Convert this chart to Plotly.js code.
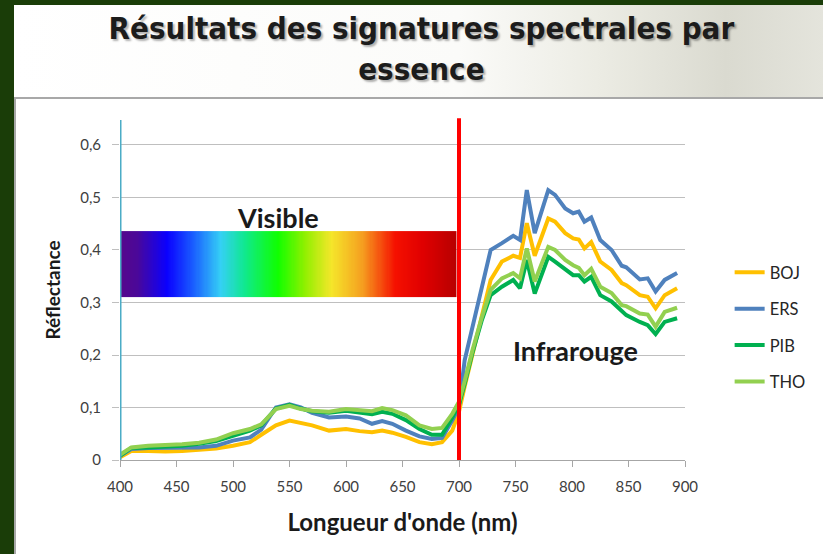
<!DOCTYPE html>
<html>
<head>
<meta charset="utf-8">
<script src="https://cdn.plot.ly/plotly-3.0.1.min.js"></script>
<style>
  html, body { margin: 0; padding: 0; width: 823px; height: 554px; overflow: hidden; background: #1a3d08; }
  #titlebg { position: absolute; left: 14px; top: 5px; width: 809px; height: 93px;
    background: linear-gradient(90deg, #ffffff 0%, #fbfbf9 55%, #ecece4 72%, #dadad0 88%, #e4e4dc 100%); }
  #box { position: absolute; left: 14px; top: 97px; width: 809px; height: 457px; background: #ffffff;
    border-top: 2px solid #a8a8a8; border-left: 2px solid #a8a8a8; box-sizing: border-box; }
  #chart { position: absolute; left: 0; top: 0; width: 823px; height: 554px; }
</style>
</head>
<body>
<div id="titlebg"></div>
<div id="box"></div>
<div id="chart"></div>
<script>
// Wavelengths (nm)
const wavelength = [400, 410, 425, 440, 455, 470, 485, 500, 515, 525, 538, 550, 560, 570, 585, 600, 612, 623, 632, 641, 653, 665, 676, 685, 694, 700,
                    705, 712, 720, 728, 738, 748, 754, 760, 767, 773, 779, 785, 794, 801, 806, 811, 817, 825, 835, 844, 848, 860, 867, 874, 882, 893];

const BOJ = [0.005, 0.017, 0.017, 0.016, 0.017, 0.019, 0.022, 0.027, 0.034, 0.048, 0.066, 0.075, 0.070, 0.066, 0.056, 0.059, 0.055, 0.053, 0.056, 0.052, 0.044, 0.034, 0.030, 0.034, 0.056, 0.092,
             0.140, 0.200, 0.275, 0.343, 0.378, 0.389, 0.385, 0.451, 0.389, 0.425, 0.460, 0.454, 0.432, 0.422, 0.420, 0.403, 0.415, 0.378, 0.362, 0.337, 0.333, 0.314, 0.311, 0.289, 0.314, 0.327];

const ERS = [0.008, 0.021, 0.023, 0.023, 0.023, 0.024, 0.027, 0.037, 0.043, 0.058, 0.100, 0.106, 0.100, 0.090, 0.081, 0.083, 0.079, 0.069, 0.074, 0.069, 0.056, 0.045, 0.040, 0.042, 0.075, 0.101,
             0.190, 0.255, 0.330, 0.400, 0.413, 0.427, 0.419, 0.514, 0.432, 0.473, 0.514, 0.505, 0.479, 0.470, 0.473, 0.454, 0.462, 0.419, 0.400, 0.370, 0.367, 0.344, 0.346, 0.321, 0.343, 0.356];

const PIB = [0.008, 0.023, 0.024, 0.025, 0.027, 0.031, 0.036, 0.046, 0.056, 0.066, 0.098, 0.105, 0.098, 0.093, 0.090, 0.094, 0.090, 0.087, 0.092, 0.088, 0.076, 0.059, 0.048, 0.048, 0.081, 0.105,
             0.145, 0.205, 0.265, 0.314, 0.330, 0.343, 0.327, 0.381, 0.317, 0.352, 0.387, 0.378, 0.362, 0.352, 0.352, 0.340, 0.349, 0.314, 0.302, 0.283, 0.276, 0.263, 0.257, 0.240, 0.263, 0.270];

const THO = [0.010, 0.024, 0.027, 0.028, 0.030, 0.033, 0.039, 0.051, 0.059, 0.068, 0.097, 0.103, 0.097, 0.094, 0.092, 0.097, 0.095, 0.093, 0.099, 0.095, 0.085, 0.066, 0.059, 0.061, 0.088, 0.111,
             0.150, 0.210, 0.270, 0.324, 0.346, 0.356, 0.346, 0.403, 0.340, 0.373, 0.406, 0.400, 0.381, 0.371, 0.366, 0.352, 0.364, 0.330, 0.318, 0.295, 0.293, 0.279, 0.277, 0.254, 0.282, 0.290];

const seriesNames = ['BOJ', 'ERS', 'PIB', 'THO'];
const seriesColors = ['#FFC000', '#4F81BD', '#00B050', '#92D050'];

const xTickVals = [400, 450, 500, 550, 600, 650, 700, 750, 800, 850, 900];
const xTickText = ['400', '450', '500', '550', '600', '650', '700', '750', '800', '850', '900'];
const yTickVals = [0, 0.1, 0.2, 0.3, 0.4, 0.5, 0.6];
const yTickText = ['0', '0,1', '0,2', '0,3', '0,4', '0,5', '0,6'];

// Visible spectrum band (decoration): wavelength range and colour stops
const spectrumRange = [400, 697];
const spectrumBand = [0.31, 0.436];
const spectrumColors = [
  [0.00, '#56088c'], [0.05, '#4b0898'], [0.14, '#0a00ff'], [0.22, '#1a60ff'],
  [0.30, '#35d0f5'], [0.37, '#10e890'], [0.47, '#10ff00'], [0.55, '#90f000'],
  [0.63, '#f5e62a'], [0.72, '#f5a020'], [0.82, '#f51000'], [0.90, '#e00000'], [1.00, '#b80000']
];

const seriesData = [BOJ, ERS, PIB, THO];

const specX = [];
for (let w = spectrumRange[0]; w <= spectrumRange[1]; w += 1) specX.push(w);
const specTrace = {
  type: 'heatmap',
  x: specX,
  y: spectrumBand,
  z: [specX],
  zmin: spectrumRange[0], zmax: spectrumRange[1],
  colorscale: spectrumColors,
  showscale: false,
  hoverinfo: 'skip',
  showlegend: false
};

const lineTraces = seriesNames.map((n, i) => ({
  type: 'scatter', mode: 'lines', name: n,
  x: wavelength, y: seriesData[i],
  line: { color: seriesColors[i], width: 4 },
  legendgroup: n
}));

const font = 'Lato, "Open Sans", sans-serif';

const layout = {
  width: 823, height: 554, autosize: false,
  paper_bgcolor: 'rgba(0,0,0,0)', plot_bgcolor: 'rgba(0,0,0,0)',
  margin: { l: 120, r: 138, t: 120, b: 94, pad: 0 },
  title: {
    text: 'Résultats des signatures spectrales par<br>essence',
    font: { family: '"DejaVu Sans Condensed", "DejaVu Sans", sans-serif', size: 31, color: '#1c1c1c', weight: 'bold',
            shadow: '2px 2px 2px rgba(0,0,0,0.3)' },
    xref: 'container', x: 0.512, xanchor: 'center',
    yref: 'container', y: 0.929, yanchor: 'top'
  },
  showlegend: true,
  legend: {
    x: 1.079, xanchor: 'left', y: 0.603, yanchor: 'top',
    font: { family: font, size: 16.5, color: '#262626' },
    traceorder: 'grouped', tracegroupgap: 12,
    bgcolor: 'rgba(0,0,0,0)'
  },
  xaxis: {
    range: [400, 900], tickvals: xTickVals, ticktext: xTickText,
    showgrid: false, zeroline: false, showline: true, linecolor: '#a6a6a6', linewidth: 1,
    ticks: 'outside', ticklen: 6, tickcolor: '#a6a6a6',
    tickfont: { family: font, size: 15, color: '#404040' }, ticklabelstandoff: 7,
    title: { text: "Longueur d'onde (nm)", font: { family: font, size: 24, color: '#1a1a1a', weight: 'bold' }, standoff: 20 }
  },
  yaxis: {
    range: [0, 0.6476], tickvals: yTickVals, ticktext: yTickText,
    showgrid: true, gridcolor: '#bfbfbf', gridwidth: 1, zeroline: false, showline: false,
    ticks: 'outside', ticklen: 7, tickcolor: '#bfbfbf',
    tickfont: { family: font, size: 15, color: '#404040' }, ticklabelstandoff: 8,
    title: { text: 'Réflectance', font: { family: font, size: 19, color: '#1a1a1a', weight: 'bold' }, standoff: 14 }
  },
  shapes: [
    { type: 'line', xref: 'x', yref: 'paper', x0: 400, x1: 400, y0: 0, y1: 1, line: { color: '#4BACC6', width: 3 } },
    { type: 'line', xref: 'x', yref: 'paper', x0: 700, x1: 700, y0: 0, y1: 1.005, line: { color: '#FF0000', width: 4 } }
  ],
  annotations: [
    { x: 540, y: 0.461, xref: 'x', yref: 'y', text: 'Visible', showarrow: false,
      font: { family: font, size: 27, color: '#1a1a1a', weight: 'bold' } },
    { x: 803.5, y: 0.2095, xref: 'x', yref: 'y', text: 'Infrarouge', showarrow: false,
      font: { family: font, size: 27, color: '#1a1a1a', weight: 'bold' } }
  ]
};

Plotly.newPlot('chart', [specTrace].concat(lineTraces), layout, { displayModeBar: false, staticPlot: true });
</script>
</body>
</html>
